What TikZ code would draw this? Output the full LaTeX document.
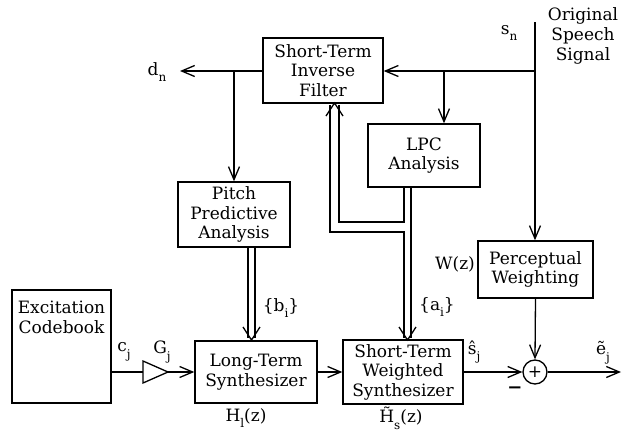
\documentclass[tikz,border=0pt]{standalone}
\usepackage{fontspec}
\setmainfont{DejaVu Serif}
\usetikzlibrary{arrows.meta,calc}
\newcommand\lsub[1]{\raisebox{-0.4em}{\fontsize{12}{12}\selectfont #1}}
\begin{document}
\begin{tikzpicture}[x=1pt,y=-1pt,
 box/.style={draw, line width=1.4pt, inner sep=0pt, align=center, font=\fontsize{17}{19.5}\selectfont},
 lbl/.style={inner sep=0pt, align=center, font=\fontsize{17}{20}\selectfont},
 conn/.style={line width=1.3pt},
 arr/.style={conn, -{Straight Barb[length=13pt,width=11pt,line width=1.3pt]}},
 vee/.style={line width=1.3pt, line join=miter}]
\useasboundingbox (0,0) rectangle (622,434);
% boxes
\node[box, minimum width=120pt, minimum height=65pt] (inv) at (323,70.5) {Short-Term\\Inverse\\Filter};
\node[box, minimum width=112pt, minimum height=63pt] (lpc) at (424,155.5) {LPC\\Analysis};
\node[box, minimum width=112pt, minimum height=65pt] (pitch) at (234,214.5) {Pitch\\Predictive\\Analysis};
\node[box, minimum width=99pt, minimum height=113pt, font=\fontsize{17}{20}\selectfont, text depth=58pt] (cb) at (61.5,346.5) {Excitation\\Codebook};
\node[box, minimum width=122pt, minimum height=62pt] (lts) at (256,372) {Long-Term\\Synthesizer};
\node[box, minimum width=120pt, minimum height=64pt] (sts) at (403,372) {Short-Term\\Weighted\\Synthesizer};
\node[box, minimum width=115pt, minimum height=57pt] (pw) at (535.5,269.5) {Perceptual\\Weighting};
\node[draw, circle, line width=1.3pt, minimum size=24pt, inner sep=0pt, font=\fontsize{17}{17}\selectfont] (sum) at (535,372) {+};
% amplifier
\coordinate (ampin) at (143,372);
\coordinate (ampout) at (168,372);
\draw[line width=1.3pt] (143,361) -- (ampout) -- (143,383) -- cycle;
% coordinates
\coordinate (sntop) at (535,22);
\coordinate (sj) at (535,71);
\coordinate (lj) at (444,71);
\coordinate (dn) at (180,71);
\coordinate (pj) at (234,71);
\coordinate (out) at (621,372);
% single connectors
\draw[conn] (sntop) -- (sj);
\draw[arr] (sj) -- (sj |- pw.north);
\draw[arr] (sj) -- (inv.east |- sj);
\draw[arr] (lj) -- (lj |- lpc.north);
\draw[arr] (inv.west |- dn) -- (dn);
\draw[arr] (pj) -- (pitch.north);
\draw[conn] (cb.east |- ampin) -- (ampin);
\draw[arr] (ampout) -- (lts.west |- ampout);
\draw[arr] (lts.east) -- (sts.west);
\draw[arr] (sts.east) -- (sum.west);
\draw[arr] (pw.south) -- (sum.north);
\draw[arr] (sum.east) -- (out);
% double connector pitch -> long-term
\draw[conn] (248,247) -- (248,338);
\draw[conn] (255,247) -- (255,338);
\draw[vee] (243,327) -- (251.5,340) -- (260,327);
% double connectors from LPC
\draw[conn] (411,187) -- (411,338);
\draw[conn] (404,187) -- (404,222) -- (339,222) -- (339,105);
\draw[conn] (330,105) -- (330,232) -- (404,232) -- (404,338);
\draw[vee] (399,327) -- (407.5,340) -- (416,327);
\draw[vee] (326,116) -- (334.5,103) -- (343,116);
% labels
\node[lbl] (ldn) at (157,72) {d\lsub{n}};
\node[lbl] (lsn) at (509,33) {s\lsub{n}};
\node[lbl] (lorig) at (583,36) {Original\\Speech\\Signal};
\node[lbl] (lb) at (281,308) {\{b\lsub{i}\}};
\node[lbl] (la) at (437,307) {\{a\lsub{i}\}};
\node[lbl] (lw) at (455,264) {W(z)};
\node[lbl] (lc) at (124,352) {c\lsub{j}};
\node[lbl] (lg) at (162,352) {G\lsub{j}};
\node[lbl] (lhl) at (246,418) {H\lsub{l}(z)};
\node[lbl] (lhs) at (401,418) {H̃\lsub{s}(z)};
\node[lbl] (lsh) at (474,352) {ŝ\lsub{j}};
\node[lbl] (le) at (603,353) {ẽ\lsub{j}};
\node[lbl, font=\fontsize{18}{18}\selectfont\bfseries] (lm) at (515,390) {−};
\end{tikzpicture}
\end{document}
